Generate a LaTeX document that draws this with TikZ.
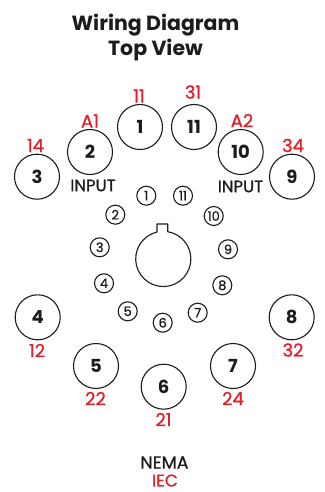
\documentclass[tikz,border=0pt]{standalone}
\usepackage{fontspec}
\setmainfont{Poppins}
\newfontfamily\medfont{Poppins}[FakeBold=0.9]
\definecolor{wred}{RGB}{225,32,46}
\definecolor{wink}{RGB}{28,28,28}
\tikzset{
 bigpin/.style={circle,draw=wink,line width=1.1pt,minimum size=45pt,inner sep=0pt,text=wink,font=\fontsize{18}{18}\selectfont\bfseries},
 smallpin/.style={circle,draw=wink,line width=1.1pt,minimum size=19pt,inner sep=0pt,text=wink,font=\fontsize{13}{13}\selectfont\medfont},
 redlabel/.style={text=wred,inner sep=0pt,font=\fontsize{18}{18}\selectfont\medfont},
 ieclabel/.style={text=wred,inner sep=0pt,font=\fontsize{17}{17}\selectfont\medfont},
 blacklabel/.style={text=wink,inner sep=0pt,font=\fontsize{16.5}{16.5}\selectfont\medfont},
 nemalabel/.style={text=wink,inner sep=0pt,font=\fontsize{17.5}{17.5}\selectfont\medfont},
 titlelabel/.style={text=wink,inner sep=0pt,font=\fontsize{20.5}{25.5}\selectfont\bfseries,align=center},
}
\begin{document}
\begin{tikzpicture}[x=1pt,y=-1pt]
\useasboundingbox (0,0) rectangle (324,492);
\fill[white] (0,0) rectangle (324,492);
\node[titlelabel] (title) at (155.5,37.5) {Wiring Diagram\\[-1pt]Top View};
% big pins
\node[bigpin] (p1) at (140,127) {1};
\node[bigpin] (p11) at (194,127) {11};
\node[bigpin] (p2) at (90,152) {2};
\node[bigpin] (p10) at (240.7,152) {10};
\node[bigpin] (p3) at (37,176.7) {3};
\node[bigpin] (p9) at (292,176.7) {9};
\node[bigpin] (p4) at (37.7,317.3) {4};
\node[bigpin] (p8) at (291.7,317.3) {8};
\node[bigpin] (p5) at (96,366) {5};
\node[bigpin] (p7) at (233,366) {7};
\node[bigpin] (p6) at (163.7,386.7) {6};
% small pins
\node[smallpin] (s1) at (146.3,195.7) {1};
\node[smallpin] (s11) at (183,195.7) {11};
\node[smallpin] (s10) at (213.7,216) {10};
\node[smallpin] (s2) at (115.3,214.7) {2};
\node[smallpin] (s3) at (99.7,247.3) {3};
\node[smallpin] (s9) at (228,249.3) {9};
\node[smallpin] (s4) at (104,283.3) {4};
\node[smallpin] (s8) at (222.3,285.3) {8};
\node[smallpin] (s5) at (127.7,311.3) {5};
\node[smallpin] (s7) at (197.7,312.7) {7};
\node[smallpin] (s6) at (162.7,322.7) {6};
% keyed centre: the arc angles are canvas angles, measured with y upward
\draw[draw=wink,line width=1.1pt,line join=round] (157,231.7) -- (157,224) -- (167.7,224) -- (167.7,231.7)
  arc[start angle=80.8,end angle=-257,radius=27.6pt] -- cycle;
% red labels
\node[redlabel] (r11) at (139,96) {11};
\node[redlabel] (r31) at (193,92) {31};
\node[redlabel] (ra1) at (90,121) {A1};
\node[redlabel] (ra2) at (242,120.5) {A2};
\node[redlabel] (r14) at (35.5,145.5) {14};
\node[redlabel] (r34) at (293,145.5) {34};
\node[redlabel] (r12) at (37,350.5) {12};
\node[redlabel] (r32) at (293,350) {32};
\node[redlabel] (r22) at (95.5,398.5) {22};
\node[redlabel] (r24) at (233,398.5) {24};
\node[redlabel] (r21) at (163.5,419.5) {21};
\node[ieclabel] (riec) at (165,480.5) {IEC};
% black labels
\node[blacklabel] (in1) at (93,185.5) {INPUT};
\node[blacklabel] (in2) at (240.5,186.5) {INPUT};
\node[nemalabel] (nema) at (164.5,462.5) {NEMA};
\end{tikzpicture}
\end{document}
